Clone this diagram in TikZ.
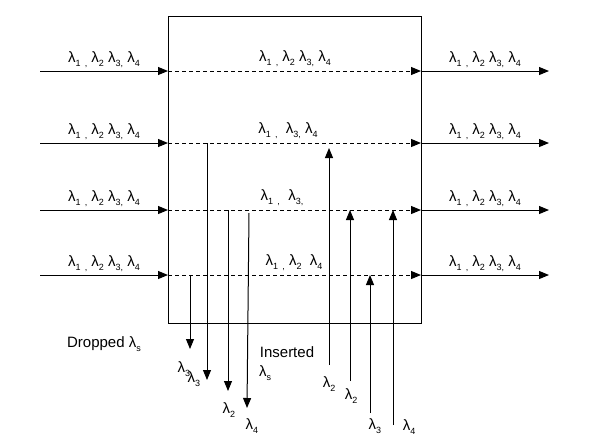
\documentclass[tikz,border=0pt]{standalone}
\usepackage{fontspec}
\setmainfont{Liberation Sans}
\usepackage{tikz}
\usetikzlibrary{arrows.meta}

\newcommand{\wl}[1]{λ\raisebox{-0.45ex}{\small #1}}
\newcommand{\cm}{\raisebox{-0.45ex}{\small,}}
\newcommand{\allwl}{\wl{1} \cm{} \wl{2} \wl{3}\cm{} \wl{4}}

\begin{document}
\begin{tikzpicture}[x=1pt, y=-1pt, line width=1pt,
  >={Triangle[length=10pt,width=8pt]},
  every node/.style={font=\fontsize{15}{17}\selectfont, inner sep=1pt},
  chan/.style={dash pattern=on 4pt off 3pt}]
  \useasboundingbox (0,0) rectangle (595,445);
  % the node
  \draw (168,16) rectangle (421,323);
  % the four fibre rows
  \foreach \y/\mx/\mtext [count=\i] in {71/295/{\allwl}, 143/288/{\wl{1} \cm{} \ \wl{3}\cm{} \wl{4}},
      210/282/{\wl{1} \cm{} \ \wl{3}\cm}, 275/294/{\wl{1} \cm{} \wl{2} \ \wl{4}}} {
    \coordinate (in\i) at (40,\y);
    \coordinate (l\i) at (168,\y);
    \coordinate (r\i) at (421,\y);
    \coordinate (out\i) at (549,\y);
    \draw[->] (in\i) -- (l\i) node[midway, above=2pt] {\allwl};
    \draw[->, chan] (l\i) -- (r\i);
    \draw[->] (r\i) -- (out\i) node[midway, above=2pt] {\allwl};
    \node[above] (mid\i) at (\mx,\y-3) {\mtext};
  }
  % dropped
  \coordinate (d1) at (190,275); \coordinate (e1) at (190,349);
  \coordinate (d2) at (207,143); \coordinate (e2) at (207,380);
  \coordinate (d3) at (228,210); \coordinate (e3) at (228,391);
  \coordinate (d4) at (249,213); \coordinate (e4) at (247,408);
  \draw[->] (d1) -- (e1);
  \draw[->] (d2) -- (e2);
  \draw[->] (d3) -- (e3);
  \draw[->] (d4) -- (e4);
  \node (a1) at (184,369) {\wl{3}};
  \node (a2) at (194,379) {\wl{3}};
  \node (a3) at (229,410) {\wl{2}};
  \node (a4) at (252,426) {\wl{4}};
  % inserted
  \coordinate (s1) at (329,365); \coordinate (t1) at (329,148);
  \coordinate (s2) at (350,381); \coordinate (t2) at (350,210);
  \coordinate (s3) at (370,413); \coordinate (t3) at (370,275);
  \coordinate (s4) at (393,425); \coordinate (t4) at (393,210);
  \draw[->] (s1) -- (t1);
  \draw[->] (s2) -- (t2);
  \draw[->] (s3) -- (t3);
  \draw[->] (s4) -- (t4);
  \node (b1) at (329,384) {\wl{2}};
  \node (b2) at (351,396) {\wl{2}};
  \node (b3) at (375,426) {\wl{3}};
  \node (b4) at (409,427) {\wl{4}};
  \node (drop) at (104,344) {Dropped \wl{s}};
  \node (ins) at (287,352) {Inserted};
  \node (inss) at (265,373) {\wl{s}};
\end{tikzpicture}
\end{document}
